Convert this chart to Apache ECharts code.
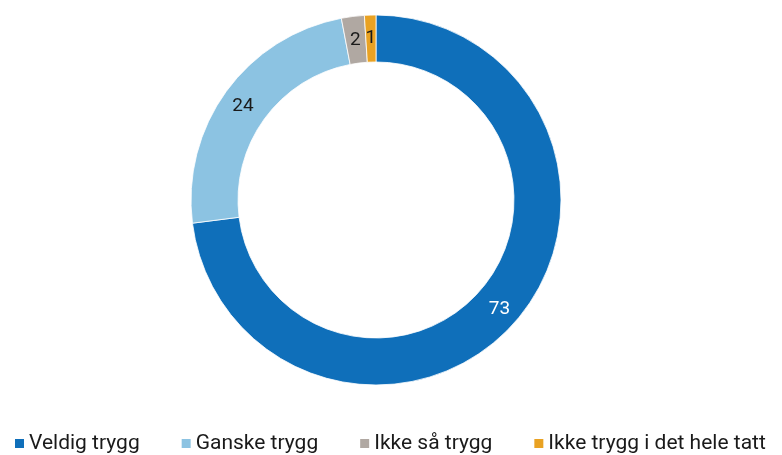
<!DOCTYPE html>
<html>
<head>
<meta charset="utf-8">
<script src="https://cdn.jsdelivr.net/npm/echarts@6/dist/echarts.min.js"></script>
<style>
  html, body { margin: 0; padding: 0; background: #ffffff; }
  #chart { width: 782px; height: 455px; }
</style>
</head>
<body>
<div id="chart"></div>
<script>
// Share of respondents by how safe they feel (percent)
const categories = ['Veldig trygg', 'Ganske trygg', 'Ikke så trygg', 'Ikke trygg i det hele tatt'];
const values = [73, 24, 2, 1];
const colors = ['#0f6fba', '#8cc3e2', '#b0a8a2', '#e9a223'];
const labelColors = ['#ffffff', '#1a1a1a', '#1a1a1a', '#1a1a1a'];

const fontFamily = 'Roboto, "Liberation Sans", sans-serif';

const chart = echarts.init(document.getElementById('chart'), null, { renderer: 'canvas' });

chart.setOption({
  animation: false,
  color: colors,
  legend: {
    bottom: 0,
    left: 8,
    padding: [5, 5, 1, 5],
    itemWidth: 11,
    itemHeight: 11,
    itemGap: 40,
    icon: 'rect',
    textStyle: { fontFamily: fontFamily, fontSize: 21, color: '#1a1a1a', padding: [0, 0, 0, -1] },
    data: categories
  },
  series: [{
    type: 'pie',
    center: [376, 200],
    radius: [138, 185],
    startAngle: 90,
    clockwise: true,
    avoidLabelOverlap: false,
    itemStyle: { borderColor: '#ffffff', borderWidth: 0.8 },
    label: {
      show: true,
      position: 'inside',
      fontFamily: fontFamily,
      fontSize: 19,
      formatter: '{c}'
    },
    // nudge the dark labels slightly toward the hole
    labelLayout: function (params) {
      return params.dataIndex === 0 ? {} : { dy: 3 };
    },
    labelLine: { show: false },
    emphasis: { disabled: true },
    data: categories.map((name, i) => ({
      name: name,
      value: values[i],
      label: { color: labelColors[i] }
    }))
  }]
});
</script>
</body>
</html>
